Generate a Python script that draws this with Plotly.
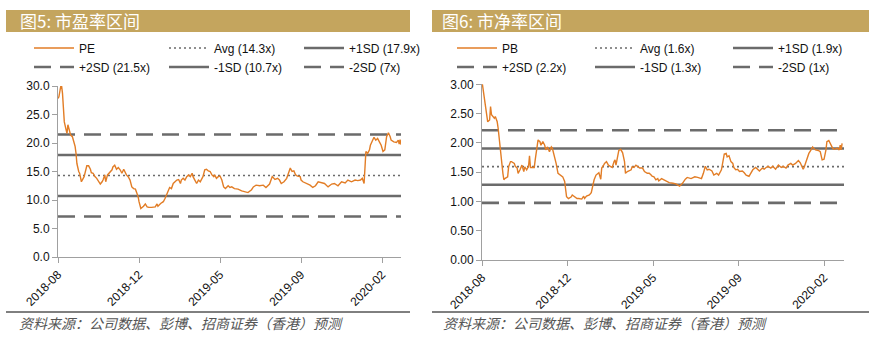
import plotly.graph_objects as go

W, H = 877, 343

# ---------------- data ----------------
x_tickvals = [0, 90, 180, 270, 360]
x_ticklabels = ["2018-08", "2018-12", "2019-05", "2019-09", "2020-02"]
x_end = 381

pe_idx = [0, 1, 3, 4, 5, 6, 7, 9, 10, 11, 13, 14, 16, 18, 19, 20, 21, 23, 24, 26, 27, 29, 32, 34, 36, 37, 39, 41, 43, 45,
          47, 49, 50, 52, 53, 55, 58, 60, 61, 63, 65, 67, 69, 71, 73, 74, 76, 78, 80, 82, 84, 86, 87, 89, 90, 91, 92, 95,
          97, 99, 101, 104, 108, 110, 111, 114, 117, 119, 121, 123, 124, 126, 128, 130, 132, 134, 136, 137, 139, 141,
          143, 145, 147, 149, 150, 152, 154, 156, 158, 160, 161, 163, 165, 167, 169, 171, 173, 174, 176, 178, 180, 182,
          184, 186, 187, 189, 191, 193, 196, 200, 204, 207, 211, 215, 217, 220, 224, 228, 231, 235, 238, 241, 244, 246,
          248, 251, 254, 256, 258, 260, 262, 264, 266, 269, 270, 272, 276, 280, 283, 286, 289, 293, 296, 300, 304, 307,
          311, 315, 319, 322, 326, 330, 333, 336, 338, 340, 341, 342, 344, 346, 347, 349, 351, 353, 355, 357, 359, 361,
          363, 365, 367, 369, 370, 373, 376, 378, 379, 380, 381]
pe_val = [27.8, 28.1, 29.9, 30.0, 28.7, 25.2, 23.7, 22.3, 21.7, 23.2, 21.7, 21.4, 21.1, 19.9, 19.4, 18.2, 16.4, 15.0,
          14.7, 13.2, 13.5, 14.1, 16.0, 16.0, 15.4, 14.8, 14.7, 14.1, 13.8, 13.2, 12.8, 13.2, 13.5, 14.4, 13.2, 14.4,
          15.0, 15.3, 15.8, 16.1, 15.4, 15.7, 15.3, 14.7, 15.4, 15.0, 14.4, 14.1, 13.5, 12.3, 12.0, 11.9, 11.5, 10.6,
          9.7, 8.8, 8.5, 8.9, 9.3, 8.8, 8.7, 8.7, 8.8, 9.3, 8.9, 9.4, 9.7, 10.3, 11.2, 12.0, 12.2, 12.0, 12.9, 13.2,
          13.5, 13.6, 12.9, 13.5, 13.8, 13.5, 14.1, 14.4, 14.1, 14.7, 14.1, 13.5, 12.9, 13.5, 13.2, 13.8, 14.1, 15.3,
          15.4, 15.1, 15.0, 14.4, 14.1, 14.4, 13.8, 14.1, 14.2, 13.5, 12.3, 12.0, 12.2, 12.5, 12.2, 12.3, 12.0, 11.9,
          11.6, 11.5, 11.3, 11.8, 12.3, 12.6, 12.5, 12.6, 12.2, 12.8, 14.1, 13.6, 13.8, 13.5, 12.9, 13.2, 13.8, 14.7,
          15.6, 15.0, 15.1, 14.4, 14.2, 14.1, 13.5, 13.2, 12.9, 12.6, 12.2, 12.5, 13.2, 13.0, 12.9, 12.3, 12.8, 12.9,
          12.5, 13.2, 13.0, 13.5, 13.2, 13.5, 13.4, 13.5, 13.8, 12.9, 16.4, 18.5, 18.2, 18.8, 19.6, 20.2, 21.0, 20.5,
          20.8, 20.2, 19.6, 18.5, 18.8, 21.1, 21.8, 21.1, 20.5, 20.2, 20.1, 20.5, 19.8, 20.6, 19.7, 20.9]

pb_idx = [0, 3, 5, 6, 8, 9, 10, 13, 14, 16, 17, 19, 20, 22, 23, 24, 27, 28, 30, 31, 34, 35, 37, 38, 40, 42, 44, 45,
          47, 49, 50, 51, 53, 55, 56, 57, 59, 61, 62, 64, 66, 67, 69, 71, 73, 74, 76, 78, 80, 82, 83, 85, 87, 88, 89,
          91, 94, 95, 97, 100, 102, 105, 107, 108, 110, 113, 115, 116, 118, 120, 122, 123, 125, 126, 128, 129, 131,
          133, 135, 137, 139, 140, 141, 143, 144, 146, 148, 150, 151, 153, 155, 157, 158, 160, 162, 164, 166, 169,
          171, 174, 176, 178, 179, 181, 183, 185, 186, 189, 190, 194, 197, 201, 204, 208, 211, 214, 216, 220, 224,
          227, 231, 233, 235, 237, 239, 242, 244, 247, 249, 252, 253, 255, 257, 258, 260, 262, 264, 265, 267, 269,
          271, 274, 276, 278, 281, 283, 285, 288, 290, 292, 295, 297, 299, 301, 304, 306, 309, 312, 315, 317, 320,
          322, 325, 327, 330, 333, 335, 338, 339, 341, 342, 344, 346, 348, 349, 351, 354, 356, 358, 360, 362, 363,
          365, 367, 369, 371, 374, 376, 377, 378, 379]
pb_val = [3.05, 2.73, 2.45, 2.36, 2.39, 2.62, 2.48, 2.42, 2.45, 2.36, 2.25, 1.93, 1.71, 1.48, 1.37, 1.39, 1.42, 1.59,
          1.68, 1.68, 1.65, 1.60, 1.57, 1.48, 1.54, 1.62, 1.51, 1.59, 1.54, 1.60, 1.78, 1.58, 1.58, 1.58, 1.71, 1.82,
          2.05, 2.02, 1.96, 2.02, 1.96, 1.88, 1.93, 1.85, 1.93, 1.91, 1.79, 1.65, 1.48, 1.45, 1.45, 1.42, 1.34, 1.20,
          1.08, 1.05, 1.08, 1.11, 1.09, 1.05, 1.05, 1.04, 1.09, 1.05, 1.09, 1.11, 1.15, 1.22, 1.37, 1.45, 1.48, 1.49,
          1.38, 1.57, 1.62, 1.65, 1.68, 1.62, 1.60, 1.58, 1.68, 1.71, 1.62, 1.79, 1.87, 1.89, 1.83, 1.68, 1.48, 1.51,
          1.52, 1.54, 1.59, 1.58, 1.62, 1.59, 1.57, 1.57, 1.51, 1.48, 1.48, 1.45, 1.43, 1.42, 1.37, 1.39, 1.35, 1.39,
          1.38, 1.34, 1.32, 1.31, 1.30, 1.26, 1.31, 1.38, 1.41, 1.39, 1.42, 1.41, 1.39, 1.48, 1.60, 1.54, 1.55, 1.52,
          1.45, 1.48, 1.45, 1.54, 1.62, 1.81, 1.82, 1.76, 1.78, 1.68, 1.65, 1.58, 1.54, 1.55, 1.51, 1.52, 1.49, 1.45,
          1.43, 1.48, 1.54, 1.58, 1.55, 1.52, 1.57, 1.55, 1.58, 1.60, 1.57, 1.60, 1.55, 1.62, 1.58, 1.60, 1.57, 1.62,
          1.65, 1.62, 1.65, 1.70, 1.66, 1.55, 1.58, 1.68, 1.74, 1.82, 1.87, 1.93, 1.91, 1.88, 1.87, 1.85, 1.71, 1.72,
          1.88, 2.02, 2.04, 1.96, 1.91, 1.89, 1.91, 1.88, 1.96, 1.88, 1.99]

pe_levels = [14.3, 17.9, 21.5, 10.7, 7.1]
pe_level_names = ["Avg (14.3x)", "+1SD (17.9x)", "+2SD (21.5x)", "-1SD (10.7x)", "-2SD (7x)"]
pb_levels = [1.595, 1.905, 2.215, 1.285, 0.975]
pb_level_names = ["Avg (1.6x)", "+1SD (1.9x)", "+2SD (2.2x)", "-1SD (1.3x)", "-2SD (1x)"]

titles = ["图5: 市盈率区间", "图6: 市净率区间"]
source_text = "资料来源：公司数据、彭博、招商证券（香港）预测"

# ---------------- styles ----------------
ORANGE = "#E27D26"
GRAY = "#6B6B6B"
AXIS = "#A0A0A0"
GOLD = "#C4A55E"
FONT = "Liberation Sans, Arial, sans-serif"
CJK = "Noto Sans CJK SC"

level_dash = ["2px,3px", "solid", "17px,9px", "solid", "17px,9px"]
level_width = [1.6, 2.6, 2.6, 2.6, 2.6]
level_legend_rows = [0, 0, 1, 1, 1]   # which legend row each level goes in
level_rank = [2, 3, 4, 5, 6]

def px_x(p):
    return p / W

def px_y(p):
    return 1 - p / H

fig = go.Figure()

panels = [
    dict(idx=pe_idx, val=pe_val, name="PE", levels=pe_levels, names=pe_level_names,
         xa="x", ya="y", legends=("legend", "legend2")),
    dict(idx=pb_idx, val=pb_val, name="PB", levels=pb_levels, names=pb_level_names,
         xa="x2", ya="y2", legends=("legend3", "legend4")),
]

for p in panels:
    for k, (lv, nm) in enumerate(zip(p["levels"], p["names"])):
        fig.add_trace(go.Scatter(
            x=[0, x_end], y=[lv, lv], mode="lines", name=nm,
            line=dict(color=GRAY, width=level_width[k], dash=level_dash[k]),
            xaxis=p["xa"], yaxis=p["ya"], legend=p["legends"][level_legend_rows[k]],
            legendrank=level_rank[k], hoverinfo="skip"))
    fig.add_trace(go.Scatter(
        x=p["idx"], y=p["val"], mode="lines", name=p["name"],
        line=dict(color=ORANGE, width=1.4),
        xaxis=p["xa"], yaxis=p["ya"], legend=p["legends"][0], legendrank=1))

axis_common = dict(showgrid=False, zeroline=False, showline=True, linecolor=AXIS, linewidth=1,
                   ticks="outside", ticklen=5, tickcolor=AXIS, tickwidth=1, automargin=False,
                   tickfont=dict(family=FONT, size=12, color="#111"))

fig.update_layout(
    width=W, height=H, margin=dict(l=0, r=0, t=0, b=0, autoexpand=False),
    paper_bgcolor="white", plot_bgcolor="white",
    xaxis=dict(domain=[px_x(58), px_x(401)], range=[0, x_end], tickvals=x_tickvals, ticktext=x_ticklabels,
               tickangle=-45, anchor="y", **axis_common),
    yaxis=dict(domain=[px_y(257), px_y(86)], range=[0, 30], dtick=5, tickformat=".1f", anchor="x", **axis_common),
    xaxis2=dict(domain=[px_x(482), px_x(844)], range=[0, x_end], tickvals=x_tickvals, ticktext=x_ticklabels,
                tickangle=-45, anchor="y2", **axis_common),
    yaxis2=dict(domain=[px_y(260), px_y(84.3)], range=[0, 3], dtick=0.5, tickformat=".2f", anchor="x2", **axis_common),
)

leg_common = dict(orientation="h", xanchor="left", yanchor="middle", bgcolor="rgba(0,0,0,0)",
                  font=dict(family=FONT, size=12, color="#111"), entrywidthmode="pixels",
                  itemwidth=40, tracegroupgap=0, traceorder="normal")
fig.update_layout(
    legend=dict(x=px_x(29), y=px_y(48), entrywidth=80, **leg_common),
    legend2=dict(x=px_x(29), y=px_y(67), entrywidth=80, **leg_common),
    legend3=dict(x=px_x(452), y=px_y(48), entrywidth=83, **leg_common),
    legend4=dict(x=px_x(452), y=px_y(67), entrywidth=83, **leg_common),
)

# header bars, titles, footer rules and source notes
shapes = []
annotations = []
for (x0, x1, tx, sx), title in zip([(6, 410, 18, 17), (432, 869, 440, 441)], titles):
    shapes.append(dict(type="rect", xref="paper", yref="paper", x0=px_x(x0), x1=px_x(x1),
                       y0=px_y(32), y1=px_y(10), fillcolor=GOLD, line=dict(width=0), layer="below"))
    shapes.append(dict(type="line", xref="paper", yref="paper", x0=px_x(x0), x1=px_x(x1),
                       y0=px_y(312), y1=px_y(312), line=dict(color="#000", width=1)))
    annotations.append(dict(text=title, xref="paper", yref="paper", x=px_x(tx), y=px_y(21),
                            xanchor="left", yanchor="middle", showarrow=False,
                            font=dict(family=CJK, size=17, color="white")))
    annotations.append(dict(text=source_text, xref="paper", yref="paper", x=px_x(sx), y=px_y(323),
                            xanchor="left", yanchor="middle", showarrow=False,
                            font=dict(family=CJK, size=14, color="#555", style="italic")))
fig.update_layout(shapes=shapes, annotations=annotations)

fig.write_html("out.html")
